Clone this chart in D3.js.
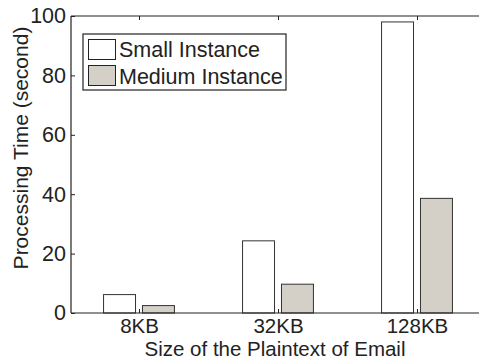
<!DOCTYPE html>
<html><head><meta charset="utf-8">
<script src="https://cdn.jsdelivr.net/npm/d3@7"></script>
<style>body{margin:0;background:#fff}svg{display:block}</style>
</head><body>
<script>
const categories = ["8KB", "32KB", "128KB"];
const seriesNames = ["Small Instance", "Medium Instance"];
const smallValues = [6.2, 24.3, 98.0];
const mediumValues = [2.5, 9.7, 38.6];
const yTicks = [0, 20, 40, 60, 80, 100];
const colors = ["#ffffff", "#d4d0c8"];

(function () {
const W = 479, H = 360;
const mLeft = 71, mTop = 16, mBottom = 313;
const font = "'Liberation Sans', Arial, sans-serif";
const fs = 21.5;
const svg = d3.select("body").append("svg").attr("width", W).attr("height", H);

const x = d3.scaleLinear().domain([1, 3]).range([139, 417]);
const y = d3.scaleLinear().domain([0, 100]).range([mBottom, mTop]);
const bw = x(1.23) - x(1);
const off = x(1.14) - x(1);

const series = [smallValues, mediumValues];
series.forEach((vals, si) => {
  svg.append("g").selectAll("rect").data(vals).join("rect")
    .attr("x", (d, i) => x(i + 1) + (si === 0 ? -off : off) - bw / 2)
    .attr("y", d => y(d))
    .attr("width", bw)
    .attr("height", d => y(0) - y(d))
    .attr("fill", colors[si])
    .attr("stroke", "#333")
    .attr("stroke-width", 1);
});

const g = svg.append("g").attr("stroke", "#222").attr("stroke-width", 1.2);
g.append("line").attr("x1", mLeft).attr("x2", W).attr("y1", mTop).attr("y2", mTop);
g.append("line").attr("x1", mLeft).attr("x2", W).attr("y1", mBottom).attr("y2", mBottom);
g.append("line").attr("x1", mLeft).attr("x2", mLeft).attr("y1", mTop).attr("y2", mBottom);

const yAxis = d3.axisLeft(y).tickValues(yTicks).tickSizeInner(-4).tickSizeOuter(0).tickPadding(8);
const ya = svg.append("g").attr("transform", `translate(${mLeft},0)`).call(yAxis);
ya.select(".domain").remove();
ya.selectAll("line").attr("stroke", "#222");
ya.selectAll("text").attr("font-family", font).attr("font-size", fs).attr("fill", "#222").attr("x", -5);

const xAxis = d3.axisBottom(x).tickValues([1, 2, 3]).tickFormat((d, i) => categories[i]).tickSizeInner(-4).tickSizeOuter(0).tickPadding(10);
const xa = svg.append("g").attr("transform", `translate(0,${mBottom})`).call(xAxis);
xa.select(".domain").remove();
xa.selectAll("line").attr("stroke", "#222");
xa.selectAll("text").attr("font-family", font).attr("font-size", 20.5).attr("fill", "#222").attr("y", 5.5).attr("dy", "0.71em");
const xt = d3.axisTop(x).tickValues([1, 2, 3]).tickFormat("").tickSizeInner(-4).tickSizeOuter(0);
const xta = svg.append("g").attr("transform", `translate(0,${mTop})`).call(xt);
xta.select(".domain").remove();
xta.selectAll("line").attr("stroke", "#222");

svg.append("text").attr("x", 275).attr("y", 355.5).attr("text-anchor", "middle")
  .attr("font-family", font).attr("font-size", 20.5).attr("fill", "#222")
  .text("Size of the Plaintext of Email");
svg.append("text").attr("transform", `translate(28,148) rotate(-90)`)
  .attr("text-anchor", "middle").attr("font-family", font).attr("font-size", 21).attr("fill", "#222")
  .text("Processing Time (second)");

const lg = svg.append("g");
lg.append("rect").attr("x", 83).attr("y", 34).attr("width", 203).attr("height", 56)
  .attr("fill", "#fff").attr("stroke", "#222").attr("stroke-width", 1.2);
seriesNames.forEach((n, i) => {
  lg.append("rect").attr("x", 88.5).attr("y", 39.5 + i * 26).attr("width", 27).attr("height", 20)
    .attr("fill", colors[i]).attr("stroke", "#222").attr("stroke-width", 1);
  lg.append("text").attr("x", 119).attr("y", 57 + i * 27)
    .attr("font-family", font).attr("font-size", fs).attr("fill", "#222").text(n);
});
})();
</script>
</body></html>
